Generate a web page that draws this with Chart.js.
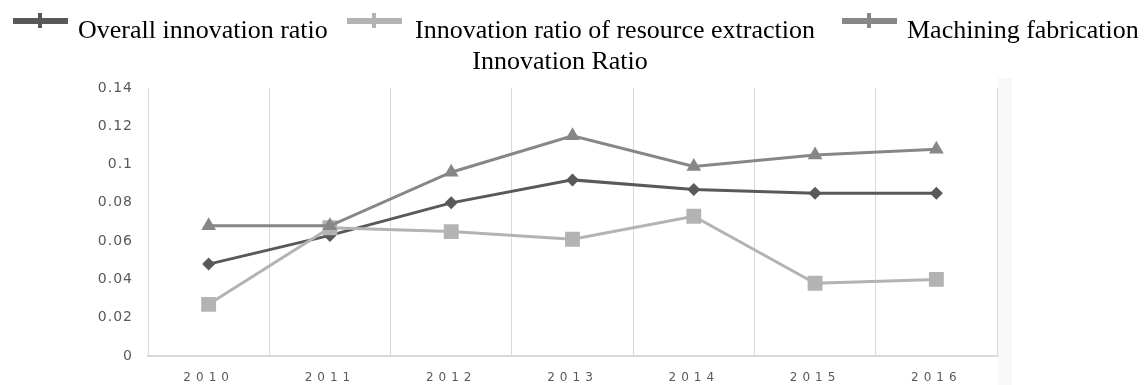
<!DOCTYPE html>
<html><head><meta charset="utf-8">
<script src="https://cdn.jsdelivr.net/npm/chart.js@4.4.1/dist/chart.umd.min.js"></script>
<style>
html,body{margin:0;padding:0;background:#fff;width:1146px;height:385px;overflow:hidden;}
body{position:relative;font-family:"Liberation Serif","Times New Roman",serif;}
#wrap{position:absolute;left:0;top:0;width:1146px;height:385px;}
#strip{position:absolute;left:998px;top:78px;width:14px;height:307px;background:#f8f8f8;}
.lg{position:absolute;font-size:26px;line-height:26px;color:#000;white-space:nowrap;}
.sw{position:absolute;height:6px;}
.bump{position:absolute;width:4px;height:15px;}
</style></head>
<body>
<div id="strip"></div>
<div id="wrap"><canvas id="c"></canvas></div>
<div id="legend"></div>
<script>
// ---- data ----
const categories = ['2010','2011','2012','2013','2014','2015','2016'];
const overallRatio   = [0.048, 0.063, 0.080, 0.092, 0.087, 0.085, 0.085];
const resourceRatio  = [0.027, 0.067, 0.065, 0.061, 0.073, 0.038, 0.040];
const machiningRatio = [0.068, 0.068, 0.096, 0.115, 0.099, 0.105, 0.108];
const yTickLabels = ['0','0.02','0.04','0.06','0.08','0.1','0.12','0.14'];
const seriesNames = ['Overall innovation ratio','Innovation ratio of resource extraction','Machining fabrication Innovation Ratio'];
const seriesColors = ['#595959','#b3b3b3','#878787'];

// ---- legend (HTML) ----
const legend = document.getElementById('legend');
const legendItems = [
  {sw:13, tx:78, lines:[seriesNames[0]]},
  {sw:347, tx:415, lines:[seriesNames[1]]},
  {sw:842, tx:907, lines:['Machining fabrication']}
];
legendItems.forEach((it,i)=>{
  const s=document.createElement('div'); s.className='sw';
  s.style.left=it.sw+'px'; s.style.top='18px'; s.style.width='55px'; s.style.background=seriesColors[i];
  legend.appendChild(s);
  const b=document.createElement('div'); b.className='bump';
  b.style.left=(it.sw+25)+'px'; b.style.top='13px'; b.style.background=seriesColors[i];
  legend.appendChild(b);
  const t=document.createElement('div'); t.className='lg';
  t.style.left=it.tx+'px'; t.style.top='17px'; t.textContent=it.lines[0];
  legend.appendChild(t);
});
const l2=document.createElement('div'); l2.className='lg';
l2.style.left='0px'; l2.style.width='1120px'; l2.style.textAlign='center'; l2.style.top='48px';
l2.textContent='Innovation Ratio';
legend.appendChild(l2);

// ---- chart ----
const spacingPlugin = {
  id:'spacing',
  beforeDraw(chart){ chart.ctx.letterSpacing='1px'; },
  afterDatasetsDraw(chart){ chart.ctx.letterSpacing='5px'; },
  afterDraw(chart){ chart.ctx.letterSpacing='0px'; }
};

const ds = (label, data, color, style, radius, order) => ({
  label, data, borderColor: color, backgroundColor: color,
  pointBackgroundColor: color, pointBorderColor: color, pointBorderWidth: 0,
  pointStyle: style, pointRadius: radius, pointHoverRadius: radius,
  borderWidth: 3, tension: 0, fill: false, order
});

new Chart(document.getElementById('c'), {
  type: 'line',
  data: {
    labels: categories,
    datasets: [
      ds(seriesNames[0], overallRatio, seriesColors[0], 'rectRot', 6.5, 3),
      ds(seriesNames[1], resourceRatio, seriesColors[1], 'rect', 10.5, 2),
      ds(seriesNames[2], machiningRatio, seriesColors[2], 'triangle', 8.5, 1)
    ]
  },
  options: {
    responsive: true, maintainAspectRatio: false, animation: false,
    layout: { padding: { top: 88, right: 149, left: 0, bottom: 0 } },
    plugins: { legend: { display: false }, tooltip: { enabled: false } },
    scales: {
      x: {
        offset: true,
        grid: { offset: true, color: '#d9d9d9', lineWidth: 1, drawTicks: false },
        border: { color: '#d9d9d9', width: 2 },
        ticks: { z: 1, padding: 15, color: '#595959', font: { family: 'DejaVu Sans', size: 12 }, maxRotation: 0 },
        afterFit(scale){ scale.height = 29; }
      },
      y: {
        min: 0, max: 0.14,
        grid: { display: false, drawTicks: false },
        border: { display: true, color: '#d9d9d9', width: 1 },
        ticks: { stepSize: 0.02, padding: 15, color: '#595959', font: { family: 'DejaVu Sans', size: 14 },
          callback: (v, i) => yTickLabels[i] },
        afterFit(scale){ scale.width = 148; }
      }
    }
  },
  plugins: [spacingPlugin]
});
</script>
</body></html>
